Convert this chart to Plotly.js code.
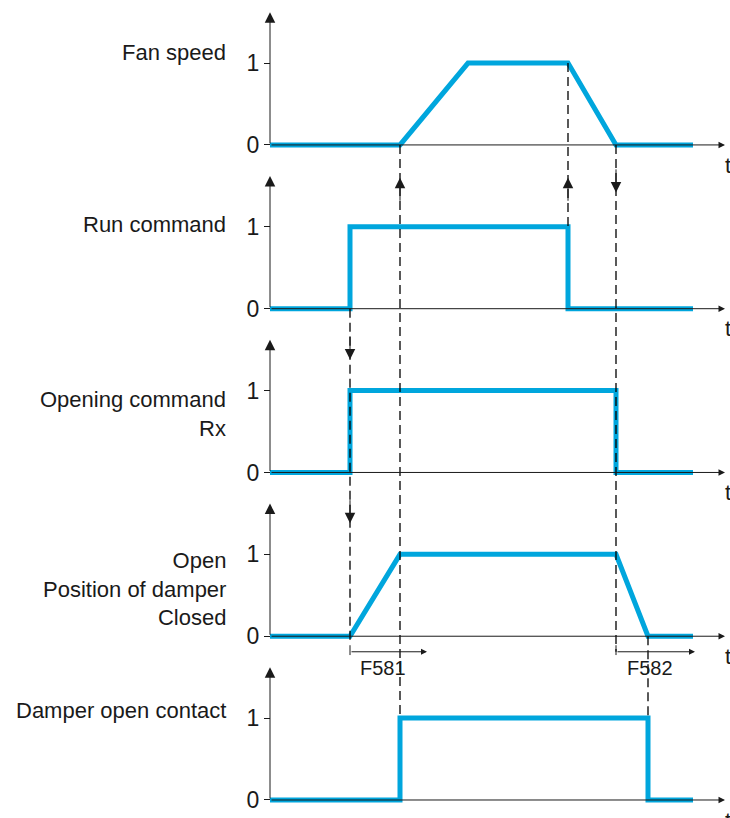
<!DOCTYPE html>
<html>
<head>
<meta charset="utf-8">
<script src="https://cdn.plot.ly/plotly-3.0.1.min.js"></script>
<style>
  html, body { margin: 0; padding: 0; background: #fff; }
  #chart { width: 730px; height: 818px; }
</style>
</head>
<body>
<div id="chart"></div>
<script>
// timing diagram data (time in arbitrary units, levels 0/1)
const panelNames = ["Fan speed", "Run command", "Opening command<br>Rx",
  "Open<br>Position of damper<br>Closed", "Damper open contact"];
const panelBase = [8, 6, 4, 2, 0];
const labelOffset = [1.13, 1.03, 0.71, 0.58, 1.09];

const fanT = [0, 13, 19.8, 29.8, 34.6, 42.3];
const fanV = [0, 0, 1, 1, 0, 0];
const runT = [0, 8, 8, 29.8, 29.8, 42.3];
const runV = [0, 0, 1, 1, 0, 0];
const rxT = [0, 8, 8, 34.6, 34.6, 42.3];
const rxV = [0, 0, 1, 1, 0, 0];
const damperT = [0, 8, 13, 34.6, 37.8, 42.3];
const damperV = [0, 0, 1, 1, 0, 0];
const contactT = [0, 13, 13, 37.8, 37.8, 42.3];
const contactV = [0, 0, 1, 1, 0, 0];

const seriesT = [fanT, runT, rxT, damperT, contactT];
const seriesV = [fanV, runV, rxV, damperV, contactV];

// dashed guide lines: [time, from, to]
const guides = [[8, 6, 1.9], [13, 8, 1], [29.8, 9, 7], [34.6, 8, 1.81], [37.8, 2, 1]];
// arrow marks on guides: [time, tip, tail]
const guideArrows = [[13, 7.6, 7.3], [29.8, 7.6, 7.3], [34.6, 7.42, 7.72],
  [8, 5.38, 5.68], [8, 3.38, 3.68]];
// delay brackets: [start, end, label]
const delays = [[8, 15.7, "F581"], [34.6, 42.5, "F582"]];

const blue = "#00a6dd";
const ink = "#1a1a1a";
const font = "Liberation Sans, Arial, sans-serif";
const axisEnd = 45.5;
const axisTop = 1.62;

const traces = seriesT.map((t, i) => ({
  x: t,
  y: seriesV[i].map(v => v + panelBase[i]),
  type: "scatter",
  mode: "lines",
  line: { color: blue, width: 5 },
  hoverinfo: "skip"
}));

const shapes = [];
const annotations = [];

function arrow(x, y, ax, ay, size) {
  annotations.push({
    x: x, y: y, ax: ax, ay: ay, xref: "x", yref: "y", axref: "x", ayref: "y",
    text: "", showarrow: true, arrowhead: 2, arrowsize: size, arrowwidth: 1,
    arrowcolor: ink, standoff: 0, startstandoff: 0
  });
}

panelBase.forEach((b, i) => {
  // axes with arrow heads
  arrow(0, b + axisTop, 0, b, 2.1);
  arrow(axisEnd, b, 0, b, 1.3);
  annotations.push({
    x: axisEnd - 0.2, y: b - 0.07, xref: "x", yref: "y", xanchor: "left", yanchor: "top",
    text: "t", showarrow: false, font: { family: font, size: 22, color: ink }
  });
  annotations.push({
    x: -4.2, y: b + labelOffset[i], xref: "x", yref: "y", xanchor: "right", yanchor: "middle",
    align: "right", text: panelNames[i], showarrow: false,
    font: { family: font, size: 22, color: ink }
  });
});

guides.forEach(g => {
  shapes.push({
    type: "line", xref: "x", yref: "y", x0: g[0], x1: g[0], y0: g[1], y1: g[2],
    line: { color: "#000", width: 1.3, dash: "9px,5px" }
  });
});

guideArrows.forEach(a => arrow(a[0], a[1], a[0], a[2], 2.1));

const bracketY = 1.81;
delays.forEach(d => {
  arrow(d[1], bracketY, d[0], bracketY, 1.2);
  shapes.push({
    type: "line", xref: "x", yref: "y", x0: d[0], x1: d[0], y0: bracketY + 0.08, y1: bracketY - 0.04,
    line: { color: ink, width: 1 }
  });
  annotations.push({
    x: (d[0] + d[1]) / 2 - 0.6, y: bracketY - 0.04, xref: "x", yref: "y",
    xanchor: "center", yanchor: "top", text: d[2], showarrow: false,
    font: { family: font, size: 20, color: ink }
  });
});

const tickVals = [];
const tickText = [];
panelBase.forEach(b => {
  tickVals.push(b, b + 1);
  tickText.push("0", "1");
});

const layout = {
  width: 730,
  height: 818,
  margin: { l: 0, r: 0, t: 0, b: 0 },
  paper_bgcolor: "#fff",
  plot_bgcolor: "#fff",
  showlegend: false,
  xaxis: {
    range: [-27, 46], showgrid: false, zeroline: false, showline: false,
    showticklabels: false, ticks: "", fixedrange: true
  },
  yaxis: {
    range: [-0.22, 9.77], anchor: "free", position: 270 / 730,
    showgrid: false, zeroline: false, showline: false,
    tickmode: "array", tickvals: tickVals, ticktext: tickText,
    ticks: "outside", ticklen: 6, tickcolor: ink, tickwidth: 1,
    tickfont: { family: font, size: 23, color: ink }, fixedrange: true
  },
  shapes: shapes,
  annotations: annotations
};

Plotly.newPlot("chart", traces, layout, { displayModeBar: false, staticPlot: true });
</script>
</body>
</html>
